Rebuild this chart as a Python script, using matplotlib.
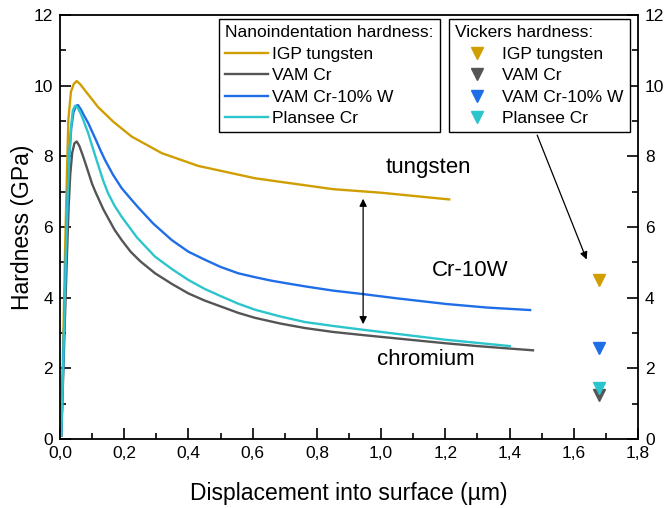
import numpy as np
import matplotlib
matplotlib.use('Agg')
import matplotlib.pyplot as plt
from matplotlib.ticker import MultipleLocator, FuncFormatter
from matplotlib.lines import Line2D

plt.rcParams['font.family'] = ['Liberation Sans', 'DejaVu Sans']

# nanoindentation curves (displacement um, hardness GPa)
igp_w_x = [0.004, 0.008, 0.012, 0.016, 0.021, 0.026, 0.034, 0.043, 0.052, 0.062, 0.119,
           0.166, 0.223, 0.317, 0.430, 0.607, 0.685, 0.851, 1.000, 1.212]
igp_w_y = [0.1, 1.8, 3.6, 5.4, 7.3, 9.03, 9.83, 10.05, 10.13, 10.05, 9.39,
           8.98, 8.56, 8.09, 7.73, 7.38, 7.28, 7.07, 6.97, 6.78]

vam_cr_x = [0.004, 0.010, 0.016, 0.022, 0.027, 0.032, 0.038, 0.045, 0.052, 0.060, 0.070,
            0.080, 0.090, 0.100, 0.110, 0.120, 0.135, 0.150, 0.170, 0.192, 0.220,
            0.250, 0.296, 0.350, 0.400, 0.450, 0.504, 0.555, 0.607, 0.685, 0.763,
            0.850, 0.945, 1.000, 1.100, 1.200, 1.300, 1.400, 1.473]
vam_cr_y = [0.1, 1.8, 3.6, 5.3, 6.6, 7.5, 8.1, 8.37, 8.42, 8.30, 8.05,
            7.78, 7.50, 7.22, 7.00, 6.80, 6.50, 6.25, 5.92, 5.63, 5.30,
            5.03, 4.69, 4.38, 4.12, 3.92, 3.74, 3.57, 3.43, 3.27, 3.14,
            3.03, 2.94, 2.89, 2.80, 2.71, 2.63, 2.56, 2.51]

vam_crw_x = [0.004, 0.009, 0.014, 0.019, 0.024, 0.029, 0.035, 0.042, 0.050, 0.056, 0.065,
             0.075, 0.088, 0.100, 0.115, 0.127, 0.140, 0.165, 0.192, 0.220, 0.244,
             0.290, 0.348, 0.400, 0.452, 0.500, 0.555, 0.607, 0.659, 0.710, 0.763,
             0.850, 0.945, 1.050, 1.204, 1.330, 1.464]
vam_crw_y = [0.1, 1.8, 3.6, 5.4, 6.9, 8.0, 8.8, 9.25, 9.43, 9.45, 9.33,
             9.15, 8.94, 8.70, 8.40, 8.15, 7.90, 7.48, 7.10, 6.80, 6.55,
             6.10, 5.63, 5.30, 5.07, 4.87, 4.69, 4.58, 4.48, 4.40, 4.32,
             4.20, 4.10, 3.98, 3.82, 3.72, 3.65]

plansee_x = [0.004, 0.009, 0.014, 0.019, 0.024, 0.029, 0.034, 0.040, 0.047, 0.055, 0.065,
             0.075, 0.088, 0.105, 0.119, 0.135, 0.150, 0.170, 0.192, 0.240, 0.296,
             0.350, 0.400, 0.450, 0.504, 0.555, 0.607, 0.685, 0.763, 0.850, 0.945,
             1.000, 1.100, 1.200, 1.300, 1.401]
plansee_y = [0.1, 1.8, 3.6, 5.4, 6.9, 8.0, 8.8, 9.3, 9.43, 9.38, 9.20,
             8.97, 8.65, 8.15, 7.75, 7.30, 6.95, 6.60, 6.29, 5.70, 5.16,
             4.80, 4.50, 4.25, 4.03, 3.83, 3.66, 3.47, 3.31, 3.20, 3.09,
             3.03, 2.92, 2.81, 2.72, 2.63]

# Vickers hardness
vickers_x = 1.68
vickers_igp_w = 4.5
vickers_vam_cr = 1.25
vickers_vam_crw = 2.58
vickers_plansee = 1.45

c_w = '#D09E00'
c_cr = '#555555'
c_crw = '#1F6EE8'
c_pl = '#2CC5CB'

fig = plt.figure(figsize=(6.69, 5.08), dpi=100)
ax = fig.add_axes([60 / 669, 1 - 439 / 508, 578 / 669, 424 / 508])

lw = 1.7
ax.plot(igp_w_x, igp_w_y, color=c_w, lw=lw)
ax.plot(vam_cr_x, vam_cr_y, color=c_cr, lw=lw)
ax.plot(vam_crw_x, vam_crw_y, color=c_crw, lw=lw)
ax.plot(plansee_x, plansee_y, color=c_pl, lw=lw)

ms = 8
ax.plot([vickers_x], [vickers_igp_w], 'v', color=c_w, ms=ms)
ax.plot([vickers_x], [vickers_vam_crw], 'v', color=c_crw, ms=ms)
ax.plot([vickers_x], [vickers_vam_cr], 'v', color=c_cr, ms=ms)
ax.plot([vickers_x], [vickers_plansee], 'v', color=c_pl, ms=ms)

ax.set_xlim(0, 1.8)
ax.set_ylim(0, 12)
ax.xaxis.set_major_locator(MultipleLocator(0.2))
ax.xaxis.set_minor_locator(MultipleLocator(0.1))
ax.yaxis.set_major_locator(MultipleLocator(2))
ax.yaxis.set_minor_locator(MultipleLocator(1))
ax.xaxis.set_major_formatter(FuncFormatter(lambda v, p: ('%.1f' % v).replace('.', ',')))
ax.tick_params(which='both', direction='in', labelsize=12.5, width=1.2,
               left=True, right=True, labelright=True, top=False)
ax.tick_params(which='major', length=8, pad=5)
ax.tick_params(which='minor', length=4.5)
for s in ax.spines.values():
    s.set_linewidth(1.3)

ax.set_xlabel('Displacement into surface (\u00b5m)', fontsize=16.5, labelpad=15)
ax.set_ylabel('Hardness (GPa)', fontsize=16.5, labelpad=0)

# annotations
ax.text(1.147, 7.67, 'tungsten', fontsize=16, ha='center', va='center')
ax.text(1.278, 4.77, 'Cr-10W', fontsize=16, ha='center', va='center')
ax.text(1.138, 2.25, 'chromium', fontsize=16, ha='center', va='center')
ax.annotate('', xy=(0.944, 6.80), xytext=(0.944, 3.25),
            arrowprops=dict(arrowstyle='<|-|>', color='black', lw=0.9, mutation_scale=11,
                            shrinkA=0, shrinkB=0))
ax.annotate('', xy=(1.64, 5.08), xytext=(1.486, 8.60),
            arrowprops=dict(arrowstyle='-|>', color='black', lw=0.9, mutation_scale=11,
                            shrinkA=0, shrinkB=0))

leg_kw = dict(loc='upper left', fontsize=12.5, title_fontsize=12.5, frameon=True,
              fancybox=False, framealpha=1, edgecolor='black', borderaxespad=0,
              handlelength=2.45, handletextpad=0.25, labelspacing=0.36,
              borderpad=0.35, alignment='left')

h1 = [Line2D([], [], color=c, lw=lw) for c in (c_w, c_cr, c_crw, c_pl)]
labels = ['IGP tungsten', 'VAM Cr', 'VAM Cr-10% W', 'Plansee Cr']
leg1 = ax.legend(h1, labels, title='Nanoindentation hardness:',
                 bbox_to_anchor=((219 - 60) / 578, (439 - 19.3) / 424), **leg_kw)
leg1.get_frame().set_linewidth(1.0)
ax.add_artist(leg1)

h2 = [Line2D([], [], color=c, ls='none', marker='v', ms=ms) for c in (c_w, c_cr, c_crw, c_pl)]
leg2 = ax.legend(h2, labels, title='Vickers hardness:',
                 bbox_to_anchor=((449.3 - 60) / 578, (439 - 19.3) / 424), **leg_kw)
leg2.get_frame().set_linewidth(1.0)

fig.savefig('out.png', dpi=100)
